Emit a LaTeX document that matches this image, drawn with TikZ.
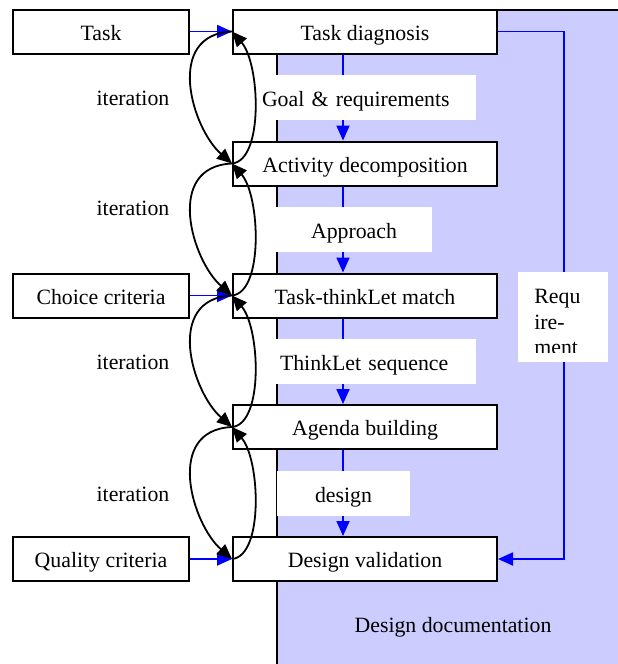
\documentclass[tikz,border=0pt]{standalone}
\usepackage{fontspec}
\setmainfont{Liberation Serif}
\usetikzlibrary{arrows.meta,calc}
\definecolor{docblue}{RGB}{204,204,255}
\definecolor{flowblue}{RGB}{0,0,255}
\begin{document}
\begin{tikzpicture}[x=0.5pt,y=-0.5pt,
  font=\fontsize{10.9pt}{12.6pt}\selectfont,
  stepbox/.style={draw=black,line width=1pt,fill=white,minimum width=132pt,minimum height=22pt,inner sep=0pt,text height=8.8pt,text depth=0.3pt},
  inbox/.style={stepbox,minimum width=88pt},
  lbl/.style={fill=white,inner sep=0pt,minimum height=22.5pt,text height=8.8pt,text depth=0.3pt},
  flow/.style={draw=flowblue,line width=0.9pt,-{Triangle[length=7.5pt,width=6.5pt]}},
  loopback/.style={draw=black,line width=0.9pt,-{Triangle[length=7.5pt,width=6.5pt]}}
]
\useasboundingbox (0,0) rectangle (617,664);
\fill[white] (0,0) rectangle (617,664);

% design documentation area
\draw[fill=docblue,line width=1pt] (277,10) rectangle (640,690);
\node (doc) at (453,627) {Design documentation};

% main design steps
\node[stepbox] (diag) at (365,31.5) {Task diagnosis};
\node[stepbox] (act)  at (365,163.5) {Activity decomposition};
\node[stepbox] (match) at (365,295.5) {Task-thinkLet match};
\node[stepbox] (agenda) at (365,427) {Agenda building};
\node[stepbox] (valid) at (365,559) {Design validation};

% inputs
\node[inbox] (task) at (101,31.5) {Task};
\node[inbox] (choice) at (101,295.5) {Choice criteria};
\node[inbox] (quality) at (101,559) {Quality criteria};

\draw[flow] (task.east) -- (diag.west);
\draw[flow] (choice.east) -- (match.west);
\draw[flow] (quality.east) -- (valid.west);

% flow between steps
\draw[flow] ($(diag.south)+(-22,0)$) -- ($(act.north)+(-22,0)$);
\draw[flow] ($(act.south)+(-22,0)$) -- ($(match.north)+(-22,0)$);
\draw[flow] ($(match.south)+(-22,0)$) -- ($(agenda.north)+(-22,0)$);
\draw[flow] ($(agenda.south)+(-22,0)$) -- ($(valid.north)+(-22,0)$);

\node[lbl,text width=105pt,align=left,inner xsep=2pt] (goal) at (367,97.5) {Goal \& requirements};
\node[lbl,minimum width=78pt] (appr) at (354,229.5) {Approach};
\node[lbl,text width=96pt,align=left,inner xsep=2pt] (seq) at (376,361.5) {ThinkLet sequence};
\node[lbl,minimum width=66.5pt] (dsgn) at (343.5,493.5) {design};

% requirement feedback
\draw[flow] (diag.east) -- ++(66,0) |- (valid.east);
\node[fill=white,minimum width=45pt,minimum height=45pt,inner sep=0pt] (reqbox) at (563,317) {};
\begin{scope}
  \clip (518,272) rectangle (608,352);
  \node[anchor=north west,align=left,inner sep=0pt,font=\fontsize{10.9pt}{12.8pt}\selectfont] (req) at (534,289) {Requ\\ire-\\ment};
\end{scope}

% iteration loops
\foreach \a/\b/\y in {diag/act/98, act/match/208, match/agenda/362, agenda/valid/494} {
  \draw[loopback] (\a.west) .. controls ($(\a.west)+(-68,3)$) and ($(\b.west)+(-40,-35)$) .. (\b.west);
  \draw[loopback] (\b.west) .. controls ($(\b.west)+(32,-3)$) and ($(\a.west)+(28,32)$) .. (\a.west);
  \node (it\a) at (133,\y) {iteration};
}
\end{tikzpicture}
\end{document}
